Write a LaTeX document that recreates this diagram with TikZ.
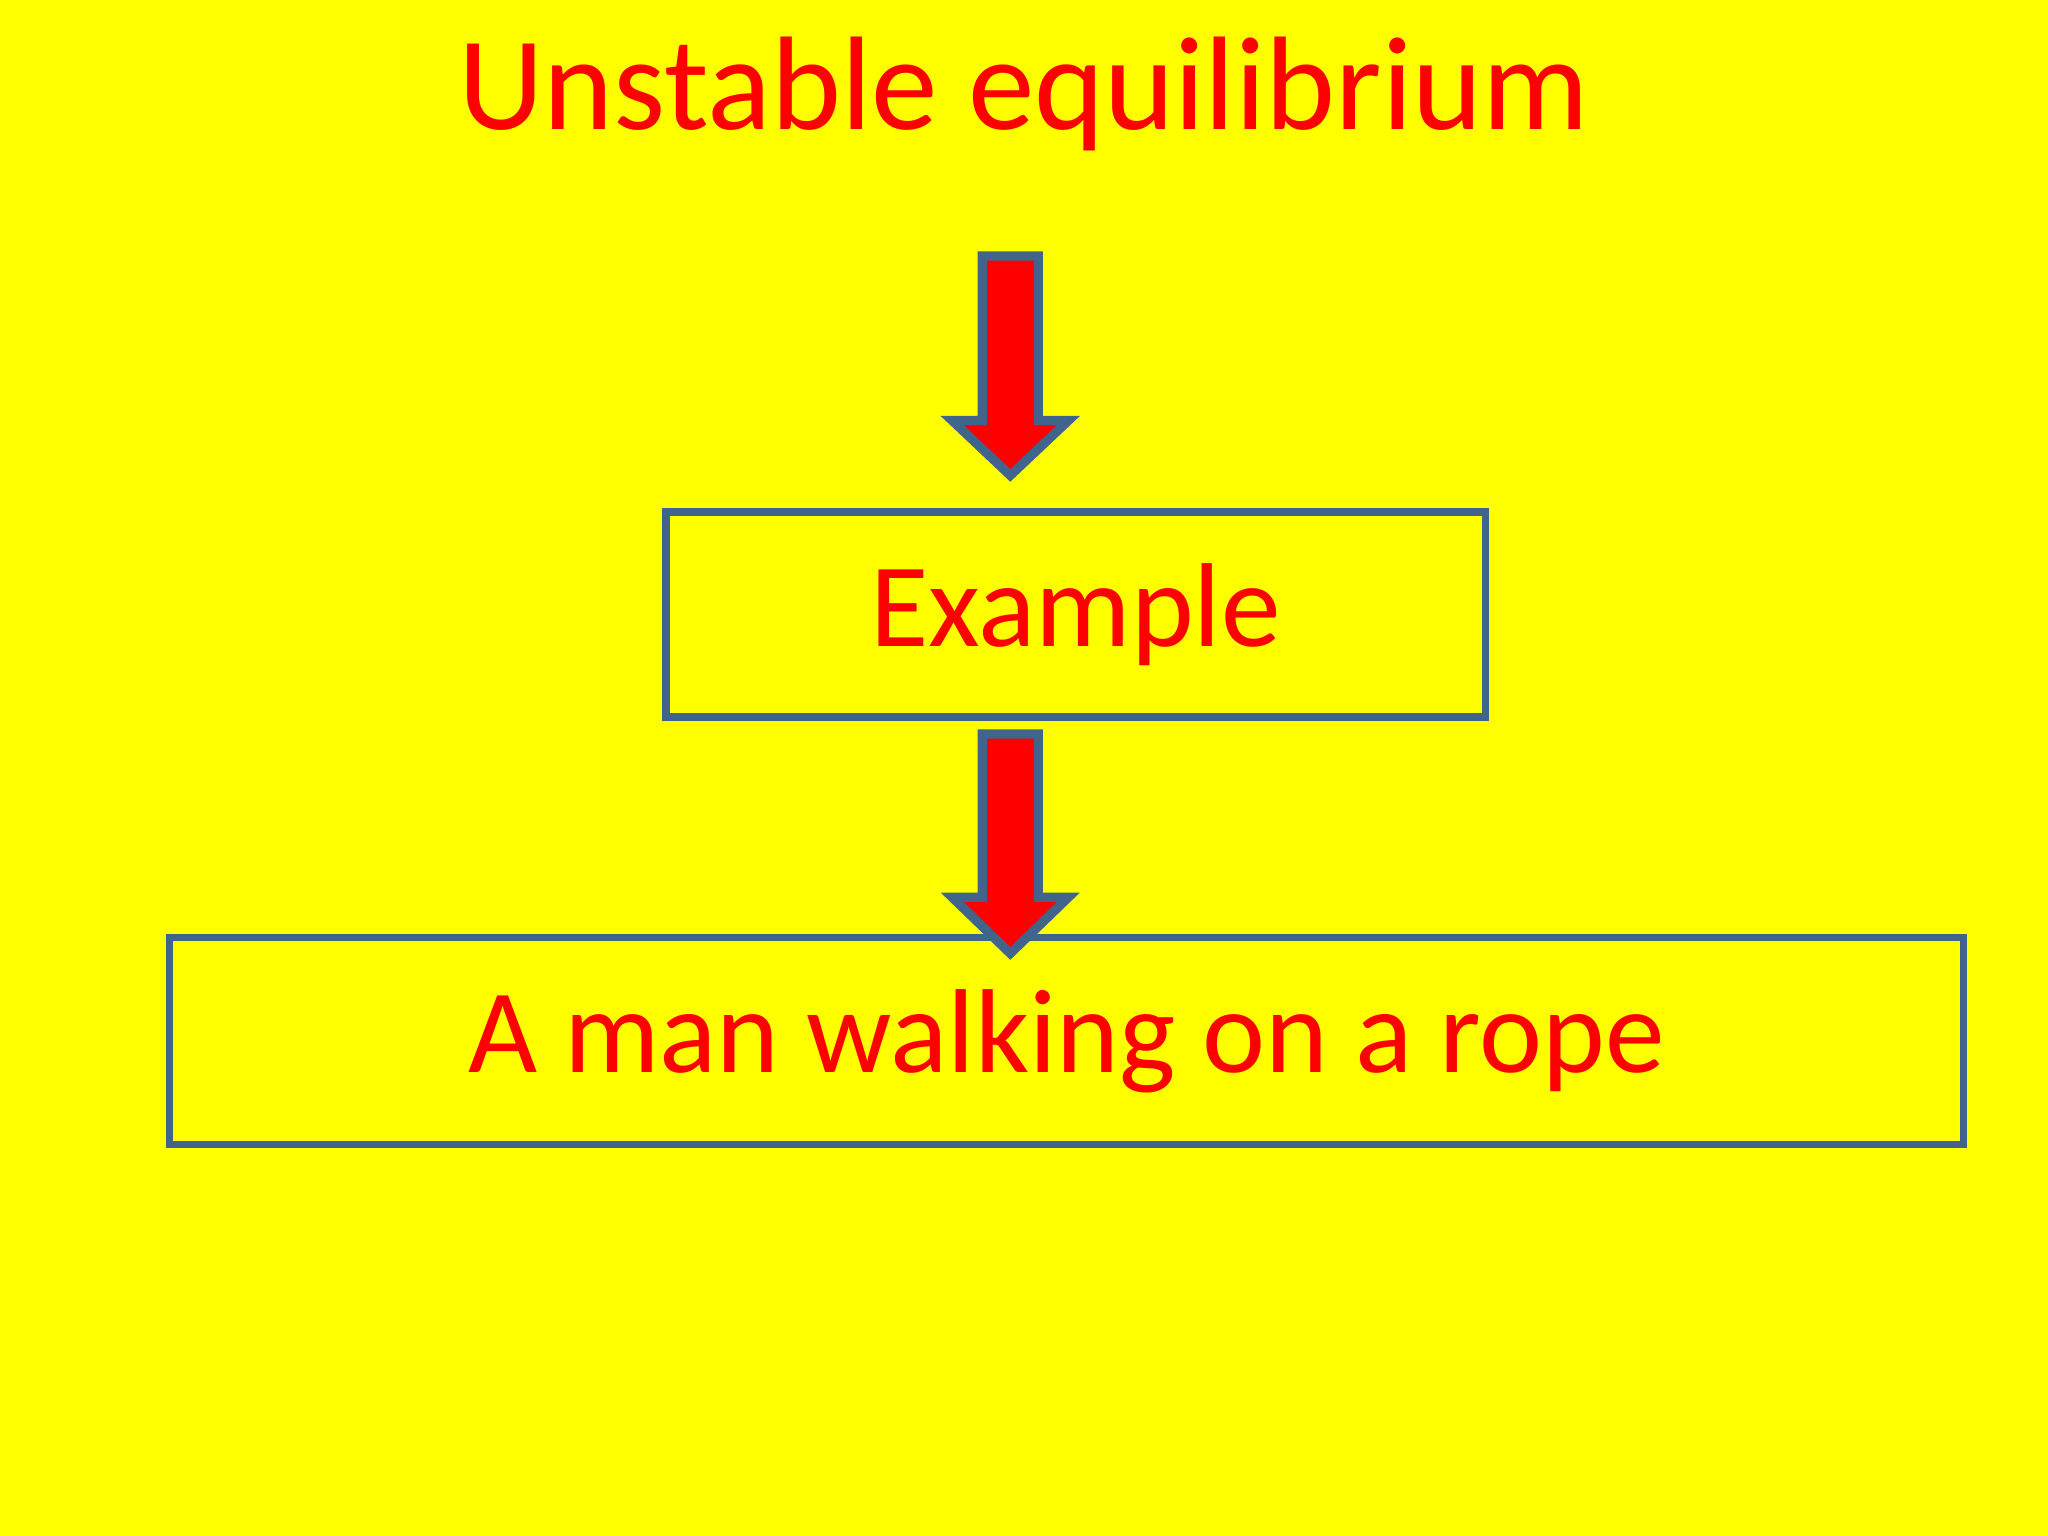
\documentclass[tikz,border=0pt]{standalone}
\usepackage{fontspec}
\setmainfont{Carlito}
\definecolor{bg}{RGB}{255,255,0}
\definecolor{edge}{RGB}{65,100,140}
\definecolor{txt}{RGB}{255,0,0}
\begin{document}
\begin{tikzpicture}[x=0.01cm,y=-0.01cm,
  box/.style={draw=edge,line width=1.6pt,rectangle,inner sep=0pt},
  bigarrow/.style={draw=edge,fill=red,line width=2pt,line join=miter}]
\fill[bg] (0,0) rectangle (1568,1176);
\useasboundingbox (0,0) rectangle (1568,1176);
\node[text=txt,font=\fontsize{29}{34}\selectfont] (title) at (784,72) {Unstable equilibrium};
\node[box,minimum width=6.27cm,minimum height=1.57cm,text=txt,font=\fontsize{26}{30}\selectfont] (ex) at (823.5,470.5) {Example};
\node[box,minimum width=13.73cm,minimum height=1.58cm,text=txt,font=\fontsize{26}{30}\selectfont] (man) at (816.5,797) {A man walking on a rope};
\draw[bigarrow] (752,196) -- (795,196) -- (795,322) -- (818,322) -- (773.5,364) -- (729,322) -- (752,322) -- cycle;
\draw[bigarrow] (752,562) -- (795,562) -- (795,687) -- (818,687) -- (773.5,730) -- (729,687) -- (752,687) -- cycle;
\end{tikzpicture}
\end{document}
